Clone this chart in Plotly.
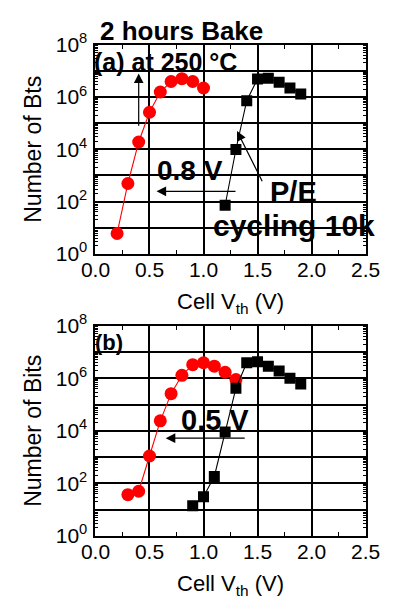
import plotly.graph_objects as go

# ---- data ----
a_red_x = [0.2, 0.3, 0.4, 0.5, 0.6, 0.7, 0.8, 0.9, 1.0]
a_red_y = [6, 490, 1.9e4, 2.6e5, 1.55e6, 3.9e6, 5.0e6, 3.9e6, 2.2e6]
a_blk_x = [1.2, 1.3, 1.4, 1.5, 1.6, 1.7, 1.8, 1.9]
a_blk_y = [72, 9.8e3, 7.2e5, 4.9e6, 5.2e6, 3.7e6, 2.2e6, 1.3e6]

b_red_x = [0.3, 0.4, 0.5, 0.6, 0.7, 0.8, 0.9, 1.0, 1.1, 1.2, 1.3]
b_red_y = [37, 50, 1.1e3, 2.4e4, 2.6e5, 1.3e6, 3.3e6, 3.9e6, 2.9e6, 1.7e6, 9e5]
b_blk_x = [0.9, 1.0, 1.1, 1.2, 1.3, 1.4, 1.5, 1.6, 1.7, 1.8, 1.9]
b_blk_y = [14, 31, 183, 9e3, 4.2e5, 3.9e6, 4.3e6, 2.9e6, 1.9e6, 1.0e6, 6e5]

x_ticks = [0.0, 0.5, 1.0, 1.5, 2.0, 2.5]
x_ticktext = ["0.0", "0.5", "1.0", "1.5", "2.0", "2.5"]
y_ticks = [10 ** k for k in range(0, 9)]
y_ticktext = ["10<sup>%d</sup>" % k if k % 2 == 0 else "" for k in range(0, 9)]
y_minor = [m * 10 ** k for k in range(0, 8) for m in range(2, 10)]

FONT = "Liberation Sans, Arial, sans-serif"
W, H = 400, 614

fig = go.Figure()

def add_panel(xs_r, ys_r, xs_b, ys_b, xa, ya):
    fig.add_trace(go.Scatter(x=xs_r, y=ys_r, mode="lines+markers", xaxis=xa, yaxis=ya,
                             line=dict(color="#ff0000", width=1.1),
                             marker=dict(symbol="circle", size=13, color="#ff0000"),
                             showlegend=False))
    fig.add_trace(go.Scatter(x=xs_b, y=ys_b, mode="lines+markers", xaxis=xa, yaxis=ya,
                             line=dict(color="black", width=1.1),
                             marker=dict(symbol="square", size=11, color="black"),
                             showlegend=False))

add_panel(a_red_x, a_red_y, a_blk_x, a_blk_y, "x", "y")
add_panel(b_red_x, b_red_y, b_blk_x, b_blk_y, "x2", "y2")

xdom = [87 / W, 379 / W]
ydom_a = [1 - 250 / H, 1 - 32 / H]
ydom_b = [1 - 544 / H, 1 - 325 / H]

def xaxis(anchor):
    return dict(domain=xdom, anchor=anchor, range=[0, 2.5], tickvals=x_ticks, ticktext=x_ticktext,
                showgrid=True, gridcolor="black", gridwidth=1.5,
                showline=True, linecolor="black", linewidth=2, mirror="allticks",
                ticks="inside", ticklen=4, tickcolor="black", tickwidth=1,
                minor=dict(tickvals=[0.25, 0.75, 1.25, 1.75, 2.25], ticks="inside", ticklen=4,
                           tickcolor="black", showgrid=False),
                tickfont=dict(family=FONT, size=21, color="black"),
                title=dict(text="Cell V<sub>th</sub> (V)", font=dict(family=FONT, size=22, color="black"),
                           standoff=14),
                zeroline=False, ticklabelstandoff=-4)

def yaxis(anchor, dom, title):
    return dict(domain=dom, anchor=anchor, type="log", range=[0, 8], tickvals=y_ticks, ticktext=y_ticktext,
                showgrid=True, gridcolor="black", gridwidth=1.5,
                showline=True, linecolor="black", linewidth=2, mirror="allticks",
                ticks="inside", ticklen=4, tickcolor="black", tickwidth=1,
                minor=dict(tickvals=y_minor, ticks="inside", ticklen=3, tickcolor="black", showgrid=False),
                tickfont=dict(family=FONT, size=21, color="black"),
                title=dict(text=title, font=dict(family=FONT, size=23, color="black"), standoff=8),
                zeroline=False, ticklabelstandoff=2)

fig.update_layout(
    width=W, height=H, margin=dict(l=0, r=0, t=0, b=0),
    paper_bgcolor="white", plot_bgcolor="white",
    xaxis=xaxis("y"), yaxis=yaxis("x", ydom_a, "Number of Bts"),
    xaxis2=xaxis("y2"), yaxis2=yaxis("x2", ydom_b, "Number of Bits"),
)

bold = lambda s: dict(family=FONT, size=s, color="black")
ann = []
# panel (a) texts
ann.append(dict(text="<b>2 hours Bake</b>", xref="paper", yref="paper", x=180 / W, y=1 - 18 / H,
                showarrow=False, font=bold(26), xanchor="center", yanchor="middle"))
ann.append(dict(text="<b>(a) at 250 °C</b>", xref="paper", yref="paper", x=163 / W, y=1 - 50 / H,
                showarrow=False, font=bold(25), xanchor="center", yanchor="middle"))
ann.append(dict(text="<b>0.8 V</b>", xref="paper", yref="paper", x=189 / W, y=1 - 163 / H,
                showarrow=False, font=bold(28), xanchor="center", yanchor="middle"))
ann.append(dict(text="<b>P/E</b>", xref="paper", yref="paper", x=301 / W, y=1 - 186 / H,
                showarrow=False, font=bold(29), xanchor="center", yanchor="middle"))
ann.append(dict(text="<b>cycling 10k</b>", xref="paper", yref="paper", x=302 / W, y=1 - 220 / H,
                showarrow=False, font=bold(30), xanchor="center", yanchor="middle"))
# arrows (a)
ann.append(dict(x=0.4, y=6.9, ax=0.4, ay=4.84, xref="x", yref="y", axref="x", ayref="y", text="",
                showarrow=True, arrowhead=2, arrowsize=1.6, arrowwidth=1.2, arrowcolor="black"))
ann.append(dict(x=0.565, y=2.39, ax=1.31, ay=2.39, xref="x", yref="y", axref="x", ayref="y", text="",
                showarrow=True, arrowhead=2, arrowsize=1.6, arrowwidth=1.2, arrowcolor="black"))
ann.append(dict(x=1.31, y=4.7, ax=1.55, ay=2.72, xref="x", yref="y", axref="x", ayref="y", text="",
                showarrow=True, arrowhead=2, arrowsize=1.6, arrowwidth=1.2, arrowcolor="black"))
# panel (b)
ann.append(dict(text="<b>(b)</b>", xref="paper", yref="paper", x=102 / W, y=1 - 342 / H,
                showarrow=False, font=bold(22), xanchor="center", yanchor="middle"))
ann.append(dict(text="<b>0.5 V</b>", xref="paper", yref="paper", x=216 / W, y=1 - 423 / H,
                showarrow=False, font=bold(29), xanchor="center", yanchor="middle"))
ann.append(dict(x=0.65, y=3.72, ax=1.395, ay=3.72, xref="x2", yref="y2", axref="x2", ayref="y2", text="",
                showarrow=True, arrowhead=2, arrowsize=1.6, arrowwidth=1.2, arrowcolor="black"))
fig.update_layout(annotations=ann)

fig.write_html("out.html")
